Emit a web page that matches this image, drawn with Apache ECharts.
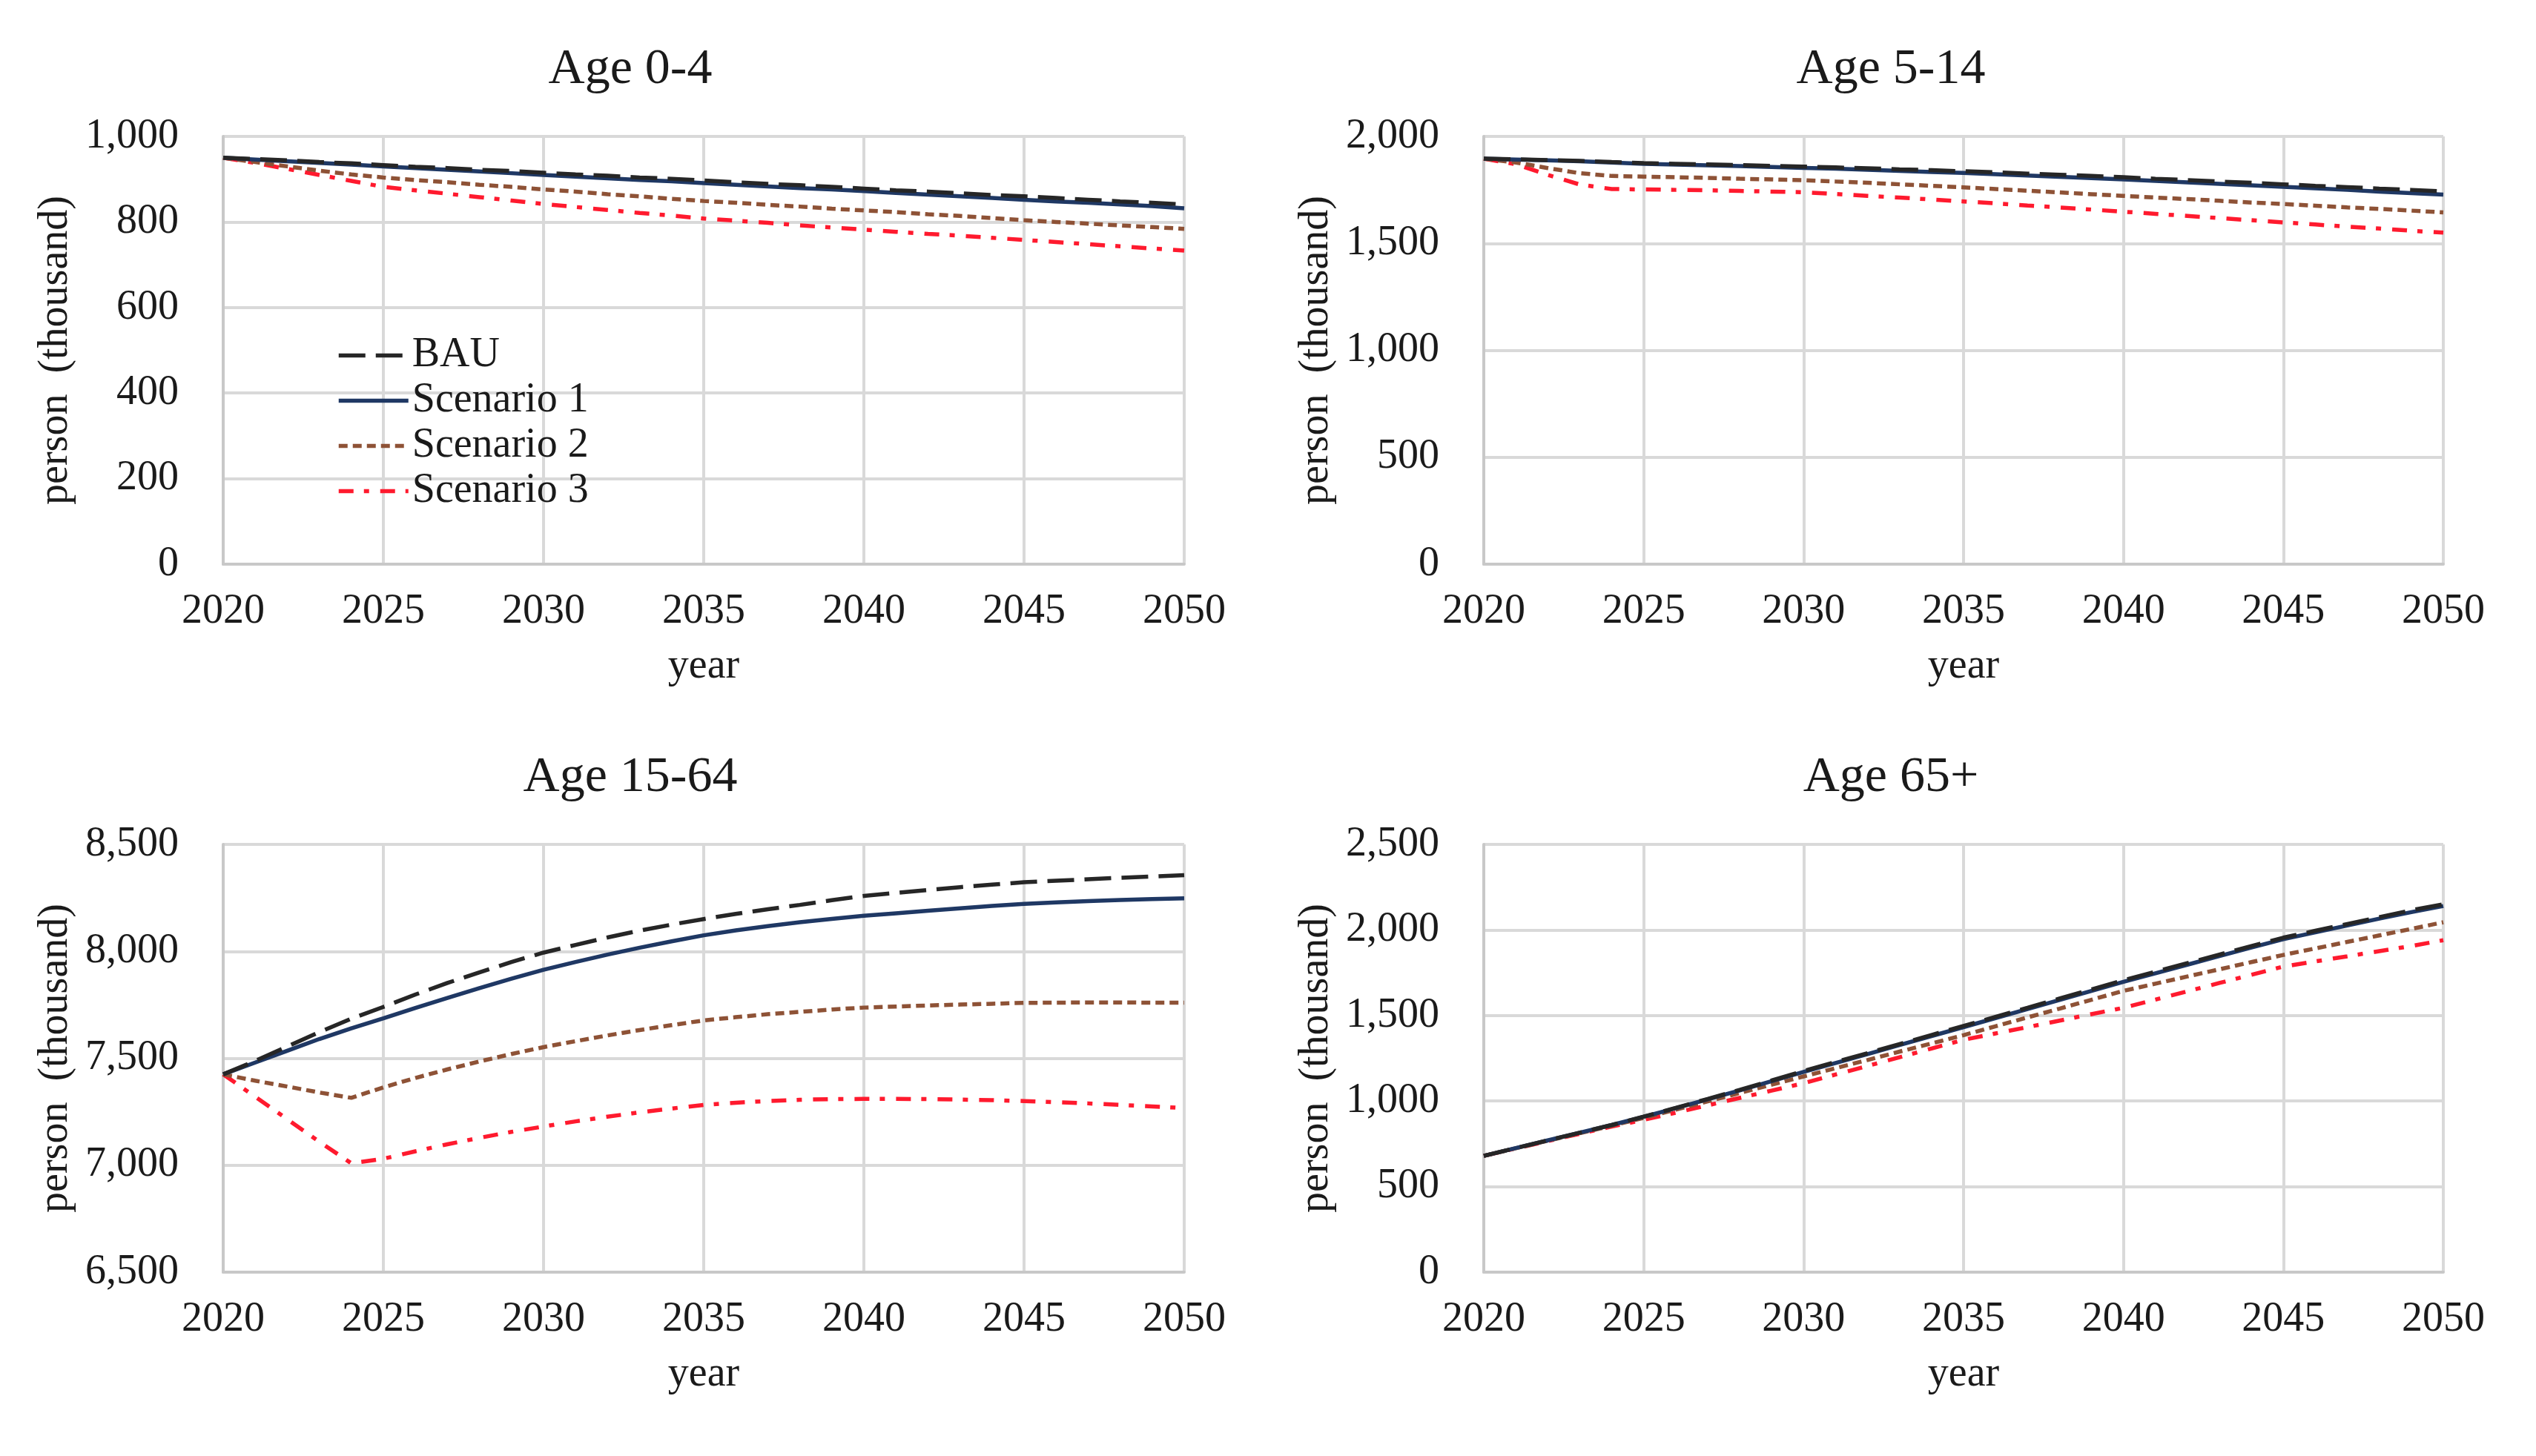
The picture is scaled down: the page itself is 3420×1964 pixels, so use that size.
<!DOCTYPE html>
<html>
<head>
<meta charset="utf-8">
<title>Population by age group</title>
<script src="https://cdn.jsdelivr.net/npm/echarts@6/dist/echarts.min.js"></script>
<style>
  html, body { margin: 0; padding: 0; background: #fff; }
  #main { width: 3420px; height: 1964px; }
</style>
</head>
<body>
<div id="main"></div>
<script>
var years = [2020, 2021, 2022, 2023, 2024, 2025, 2026, 2027, 2028, 2029, 2030,
  2031, 2032, 2033, 2034, 2035, 2036, 2037, 2038, 2039, 2040,
  2041, 2042, 2043, 2044, 2045, 2046, 2047, 2048, 2049, 2050];
var seriesNames = ['BAU', 'Scenario 1', 'Scenario 2', 'Scenario 3'];
var panelTitles = ['Age 0-4', 'Age 5-14', 'Age 15-64', 'Age 65+'];

// Age 0-4
var age04BAU = [950, 947, 944, 940, 937, 933, 929, 926, 922, 919, 915, 911, 908, 904, 901, 897, 893, 889, 886, 882, 878, 874, 871, 867, 863, 860, 856, 852, 848, 845, 841];
var age04S1 = [950, 946, 942, 938, 934, 930, 926, 922, 918, 914, 910, 906, 902, 898, 895, 891, 887, 883, 879, 876, 872, 868, 864, 860, 856, 852, 848, 845, 841, 837, 832];
var age04S2 = [950, 940, 930, 920, 911, 904, 898, 893, 887, 882, 876, 871, 865, 860, 854, 849, 845, 840, 836, 831, 827, 823, 818, 814, 809, 804, 800, 796, 792, 788, 784];
var age04S3 = [950, 938, 924, 910, 896, 882, 874, 866, 858, 850, 842, 835, 828, 821, 815, 808, 803, 798, 792, 787, 782, 777, 772, 768, 763, 758, 753, 748, 743, 738, 733];

// Age 5-14
var age514BAU = [1896, 1893, 1889, 1886, 1880, 1875, 1872, 1869, 1866, 1862, 1859, 1855, 1851, 1846, 1842, 1837, 1832, 1826, 1821, 1815, 1809, 1802, 1796, 1789, 1783, 1776, 1769, 1763, 1756, 1750, 1743];
var age514S1 = [1896, 1892, 1888, 1884, 1878, 1872, 1868, 1865, 1861, 1857, 1853, 1849, 1844, 1839, 1834, 1829, 1823, 1817, 1811, 1805, 1799, 1792, 1785, 1778, 1771, 1764, 1757, 1750, 1742, 1735, 1728];
var age514S2 = [1896, 1878, 1852, 1828, 1815, 1812, 1809, 1806, 1802, 1799, 1795, 1789, 1783, 1776, 1769, 1762, 1754, 1746, 1738, 1730, 1722, 1714, 1707, 1699, 1691, 1684, 1676, 1668, 1661, 1653, 1645];
var age514S3 = [1896, 1870, 1820, 1775, 1754, 1752, 1750, 1748, 1745, 1742, 1739, 1731, 1722, 1714, 1705, 1696, 1687, 1677, 1668, 1658, 1648, 1638, 1628, 1618, 1608, 1598, 1588, 1578, 1569, 1559, 1550];

// Age 15-64
var age1564BAU = [7425, 7488, 7555, 7622, 7685, 7740, 7798, 7852, 7902, 7950, 7994, 8030, 8065, 8097, 8125, 8151, 8175, 8197, 8217, 8239, 8259, 8273, 8287, 8300, 8312, 8323, 8330, 8337, 8344, 8350, 8356];
var age1564S1 = [7425, 7480, 7535, 7590, 7640, 7687, 7735, 7782, 7828, 7872, 7914, 7950, 7985, 8017, 8047, 8075, 8098, 8118, 8136, 8152, 8166, 8178, 8190, 8201, 8212, 8222, 8229, 8235, 8240, 8244, 8248];
var age1564S2 = [7425, 7395, 7368, 7340, 7315, 7364, 7408, 7448, 7485, 7520, 7552, 7580, 7607, 7632, 7655, 7677, 7692, 7706, 7717, 7728, 7737, 7742, 7747, 7751, 7755, 7759, 7760, 7761, 7761, 7760, 7760];
var age1564S3 = [7425, 7320, 7215, 7110, 7009, 7030, 7065, 7098, 7128, 7156, 7181, 7205, 7227, 7247, 7265, 7282, 7292, 7300, 7306, 7309, 7310, 7310, 7309, 7307, 7304, 7300, 7295, 7289, 7282, 7275, 7267];

// Age 65+
var age65BAU = [680, 725, 770, 815, 860, 909, 960, 1012, 1065, 1120, 1176, 1228, 1280, 1333, 1386, 1439, 1492, 1545, 1599, 1652, 1706, 1756, 1806, 1856, 1906, 1955, 1995, 2035, 2075, 2115, 2150];
var age65S1 = [680, 725, 770, 815, 860, 908, 958, 1010, 1062, 1116, 1170, 1222, 1274, 1327, 1380, 1432, 1485, 1538, 1591, 1644, 1697, 1747, 1797, 1847, 1897, 1946, 1986, 2026, 2066, 2104, 2140];
var age65S2 = [680, 724, 768, 812, 856, 902, 950, 998, 1047, 1096, 1144, 1192, 1240, 1289, 1337, 1385, 1437, 1489, 1540, 1592, 1644, 1686, 1728, 1770, 1812, 1854, 1892, 1930, 1968, 2006, 2045];
var age65S3 = [680, 723, 766, 809, 851, 890, 932, 975, 1018, 1061, 1104, 1155, 1205, 1256, 1307, 1358, 1395, 1432, 1470, 1508, 1545, 1593, 1641, 1690, 1738, 1786, 1816, 1846, 1876, 1906, 1940];

var panelData = [
  [age04BAU, age04S1, age04S2, age04S3],
  [age514BAU, age514S1, age514S2, age514S3],
  [age1564BAU, age1564S1, age1564S2, age1564S3],
  [age65BAU, age65S1, age65S2, age65S3]
];
var yMin = [0, 0, 6500, 0];
var yMax = [1000, 2000, 8500, 2500];
var yStep = [200, 500, 500, 500];

var FONT = 'Liberation Serif';
var TEXT_COLOR = '#1a1a1a';
var GRID_COLOR = '#d9d9d9';

var lineStyles = [
  {color: '#262626', width: 5.5, type: [36, 14]},
  {color: '#1f3864', width: 5.5, type: 'solid'},
  {color: '#8e5236', width: 5.5, type: [12, 7]},
  {color: '#ff1a2e', width: 5.5, type: [20, 14, 7, 15]}
];

// plot areas, pixels
var grids = [
  {left: 301, top: 184, width: 1296, height: 577},
  {left: 2001, top: 184, width: 1294, height: 577},
  {left: 301, top: 1139, width: 1296, height: 577},
  {left: 2001, top: 1139, width: 1294, height: 577}
];
var titleCenters = [[845, 55], [2545, 55], [845, 1010], [2545, 1010]];

function pairUp(values){
  var out = [];
  for (var i = 0; i < years.length; i++) {
    out.push([years[i], values[i]]);
  }
  return out;
}

function buildOption(){
  var option = {
    backgroundColor: '#fff',
    animation: false,
    title: [],
    grid: [],
    xAxis: [],
    yAxis: [],
    series: [],
    legend: {
      data: seriesNames,
      orient: 'vertical',
      left: 449,
      top: 446,
      itemWidth: 94,
      itemHeight: 16,
      itemGap: 4,
      itemStyle: {opacity: 0},
      lineStyle: {width: 5.5},
      textStyle: {fontFamily: FONT, fontSize: 56, color: TEXT_COLOR, lineHeight: 57, padding: [0, 0, 0, 0]}
    }
  };
  for (var p = 0; p < 4; p++) {
    option.title.push({
      text: panelTitles[p],
      left: titleCenters[p][0],
      top: titleCenters[p][1],
      textAlign: 'center',
      textStyle: {fontFamily: FONT, fontSize: 68, fontWeight: 'normal', color: TEXT_COLOR}
    });
    option.grid.push(grids[p]);
    option.xAxis.push({
      type: 'value',
      gridIndex: p,
      min: 2020,
      max: 2050,
      interval: 5,
      name: 'year',
      nameLocation: 'middle',
      nameGap: 110,
      nameTextStyle: {fontFamily: FONT, fontSize: 56, color: TEXT_COLOR},
      axisLine: {show: true, lineStyle: {color: '#c8c8c8', width: 4}},
      axisTick: {show: false},
      axisLabel: {
        fontFamily: FONT, fontSize: 56, color: TEXT_COLOR, margin: 36,
        formatter: function(v){ return String(v); }
      },
      splitLine: {show: true, lineStyle: {color: GRID_COLOR, width: 4}}
    });
    option.yAxis.push({
      type: 'value',
      gridIndex: p,
      min: yMin[p],
      max: yMax[p],
      interval: yStep[p],
      name: 'person  (thousand)',
      nameLocation: 'middle',
      nameGap: 198,
      nameTextStyle: {fontFamily: FONT, fontSize: 56, color: TEXT_COLOR},
      axisLine: {show: true, lineStyle: {color: '#c8c8c8', width: 4}},
      axisTick: {show: false},
      axisLabel: {fontFamily: FONT, fontSize: 56, color: TEXT_COLOR, margin: 60},
      splitLine: {show: true, lineStyle: {color: GRID_COLOR, width: 4}}
    });
    for (var s = 0; s < 4; s++) {
      option.series.push({
        name: seriesNames[s],
        type: 'line',
        xAxisIndex: p,
        yAxisIndex: p,
        showSymbol: false,
        symbol: 'none',
        smooth: false,
        lineStyle: lineStyles[s],
        itemStyle: {color: lineStyles[s].color},
        z: 10 - s,
        data: pairUp(panelData[p][s])
      });
    }
  }
  return option;
}

var myChart = echarts.init(document.getElementById('main'));
myChart.setOption(buildOption());
</script>
</body>
</html>
